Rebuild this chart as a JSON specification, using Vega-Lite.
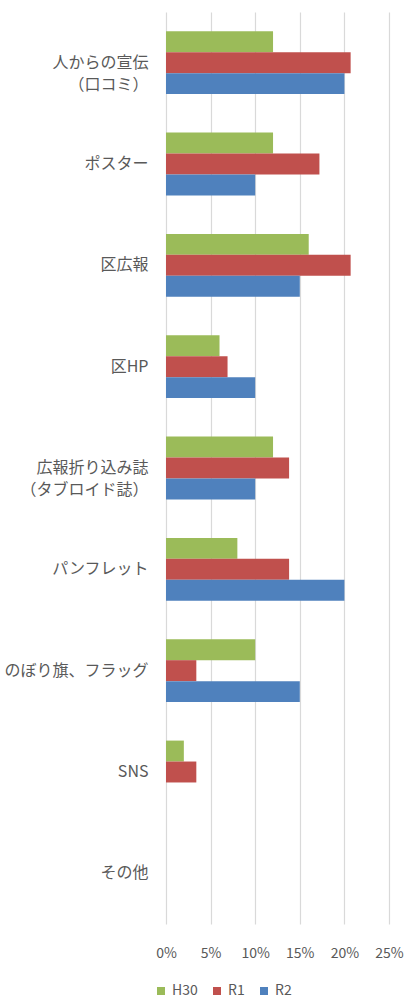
{
  "$schema": "https://vega.github.io/schema/vega-lite/v6.json",
  "autosize": {"type": "none"},
  "width": 223,
  "height": 912,
  "padding": {"left": 166, "top": 12, "right": 18, "bottom": 76},
  "background": "white",
  "config": {
    "view": {"stroke": null},
    "font": "Noto Sans CJK JP",
    "axis": {"labelColor": "#595959", "labelFont": "Noto Sans CJK JP"},
    "legend": {"labelColor": "#595959", "labelFont": "Noto Sans CJK JP"}
  },
  "data": {
    "values": [
      {"cat": "人からの宣伝|（口コミ）", "series": "H30", "value": 0.12},
      {"cat": "人からの宣伝|（口コミ）", "series": "R1", "value": 0.207},
      {"cat": "人からの宣伝|（口コミ）", "series": "R2", "value": 0.20},
      {"cat": "ポスター", "series": "H30", "value": 0.12},
      {"cat": "ポスター", "series": "R1", "value": 0.172},
      {"cat": "ポスター", "series": "R2", "value": 0.10},
      {"cat": "区広報", "series": "H30", "value": 0.16},
      {"cat": "区広報", "series": "R1", "value": 0.207},
      {"cat": "区広報", "series": "R2", "value": 0.15},
      {"cat": "区HP", "series": "H30", "value": 0.06},
      {"cat": "区HP", "series": "R1", "value": 0.069},
      {"cat": "区HP", "series": "R2", "value": 0.10},
      {"cat": "広報折り込み誌|（タブロイド誌）", "series": "H30", "value": 0.12},
      {"cat": "広報折り込み誌|（タブロイド誌）", "series": "R1", "value": 0.138},
      {"cat": "広報折り込み誌|（タブロイド誌）", "series": "R2", "value": 0.10},
      {"cat": "パンフレット", "series": "H30", "value": 0.08},
      {"cat": "パンフレット", "series": "R1", "value": 0.138},
      {"cat": "パンフレット", "series": "R2", "value": 0.20},
      {"cat": "のぼり旗、フラッグ", "series": "H30", "value": 0.10},
      {"cat": "のぼり旗、フラッグ", "series": "R1", "value": 0.034},
      {"cat": "のぼり旗、フラッグ", "series": "R2", "value": 0.15},
      {"cat": "SNS", "series": "H30", "value": 0.02},
      {"cat": "SNS", "series": "R1", "value": 0.034},
      {"cat": "SNS", "series": "R2", "value": 0},
      {"cat": "その他", "series": "H30", "value": 0},
      {"cat": "その他", "series": "R1", "value": 0},
      {"cat": "その他", "series": "R2", "value": 0}
    ]
  },
  "mark": {"type": "bar"},
  "encoding": {
    "y": {
      "field": "cat",
      "type": "nominal",
      "sort": null,
      "scale": {"paddingInner": 0.38, "paddingOuter": 0.19},
      "axis": {
        "title": null,
        "domain": false,
        "ticks": false,
        "grid": false,
        "labelFontSize": 16,
        "labelPadding": 18,
        "labelLineHeight": 22,
        "labelLimit": 200,
        "labelExpr": "split(datum.label, '|')"
      }
    },
    "yOffset": {
      "field": "series",
      "type": "nominal",
      "sort": ["H30", "R1", "R2"],
      "scale": {"paddingInner": 0, "paddingOuter": 0}
    },
    "x": {
      "field": "value",
      "type": "quantitative",
      "scale": {"domain": [0, 0.25], "nice": false},
      "axis": {
        "title": null,
        "format": ".0%",
        "values": [0, 0.05, 0.1, 0.15, 0.2, 0.25],
        "domain": false,
        "ticks": false,
        "grid": true,
        "gridColor": "#D9D9D9",
        "gridWidth": 1.2,
        "labelFontSize": 14,
        "labelPadding": 22,
        "labelFlush": false,
        "labelOverlap": false
      }
    },
    "color": {
      "field": "series",
      "type": "nominal",
      "scale": {"domain": ["H30", "R1", "R2"], "range": ["#9BBB59", "#C0504D", "#4F81BD"]},
      "legend": {
        "title": null,
        "orient": "none",
        "direction": "horizontal",
        "legendX": -12,
        "legendY": 972,
        "symbolType": "square",
        "symbolSize": 64,
        "symbolStrokeWidth": 0,
        "labelFontSize": 14,
        "labelOffset": 4,
        "columnPadding": 12
      }
    }
  }
}
